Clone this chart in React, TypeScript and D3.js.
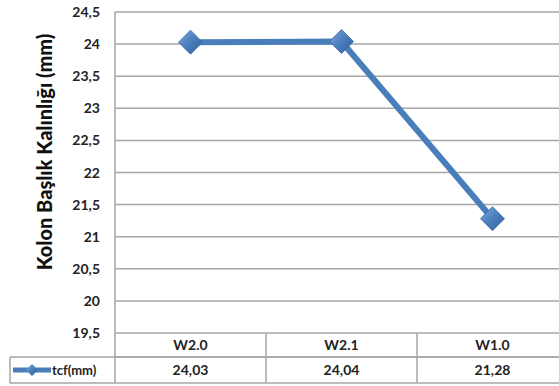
import React from "react";
import * as d3 from "d3";

const categories = ["W2.0", "W2.1", "W1.0"];
const values = [24.03, 24.04, 21.28];
const valueLabels = ["24,03", "24,04", "21,28"];
const yTicks = [19.5, 20, 20.5, 21, 21.5, 22, 22.5, 23, 23.5, 24, 24.5];
const seriesName = "tcf(mm)";
const yTitle = "Kolon Başlık Kalınlığı (mm)";

export default function App() {
  const W = 559, H = 386;
  const left = 115, right = 568, top = 12, bottom = 333;
  const row1 = 357, row2 = 383, tableLeft = 10;
  const y = d3.scaleLinear().domain([19.5, 24.5]).range([bottom, top]);
  const x = d3.scaleBand().domain(categories).range([left, right]);
  const line = d3.line<number>().x((_, i) => x(categories[i])! + x.bandwidth() / 2).y((d) => y(d));
  const font = "Lato, 'Open Sans', sans-serif";
  const grid = "#a6a6a6";
  const blue = "#4a7ebb";
  const diamond = (cx: number, cy: number, r: number) =>
    `M${cx},${cy - r}L${cx + r},${cy}L${cx},${cy + r}L${cx - r},${cy}Z`;
  return (
    <svg width={W} height={H} style={{ position: "absolute", left: 0, top: 0 }}>
      <defs>
        <linearGradient id="dg" x1="0" y1="0" x2="1" y2="1">
          <stop offset="0" stopColor="#7fa9e0" />
          <stop offset="0.5" stopColor="#4a7ebb" />
          <stop offset="1" stopColor="#2f5f9a" />
        </linearGradient>
      </defs>
      <rect width={W} height={H} fill="#fff" />
      {yTicks.map((t) => (
        <g key={t}>
          <line x1={left} x2={right} y1={y(t)} y2={y(t)} stroke={grid} strokeWidth={1.5} />
          <text x={100} y={y(t) + 5} textAnchor="end" fontFamily={font} fontWeight="bold" fontSize={14} fill="#222">
            {String(t).replace(".", ",")}
          </text>
        </g>
      ))}
      <line x1={left} x2={left} y1={top} y2={row2} stroke={grid} strokeWidth={1.5} />
      <line x1={left} x2={right} y1={row1} y2={row1} stroke={grid} strokeWidth={1.5} />
      <line x1={tableLeft} x2={right} y1={row1} y2={row1} stroke={grid} strokeWidth={1.5} />
      <line x1={tableLeft} x2={right} y1={row2} y2={row2} stroke={grid} strokeWidth={1.5} />
      <line x1={tableLeft} x2={tableLeft} y1={row1} y2={row2} stroke={grid} strokeWidth={1.5} />
      {categories.map((c, i) => (
        <g key={c}>
          {i > 0 && <line x1={x(c)} x2={x(c)} y1={bottom} y2={row2} stroke={grid} strokeWidth={1.5} />}
          <text x={x(c)! + x.bandwidth() / 2} y={bottom + 17} textAnchor="middle" fontFamily={font} fontWeight="bold" fontSize={14} fill="#222">{c}</text>
          <text x={x(c)! + x.bandwidth() / 2} y={row1 + 18} textAnchor="middle" fontFamily={font} fontWeight="bold" fontSize={14} fill="#222">{valueLabels[i]}</text>
        </g>
      ))}
      <path d={line(values)!} fill="none" stroke={blue} strokeWidth={6} strokeLinejoin="round" />
      {values.map((v, i) => (
        <path key={i} d={diamond(x(categories[i])! + x.bandwidth() / 2, y(v), 12)} fill="url(#dg)" stroke="#3b6aa8" strokeWidth={0.8} />
      ))}
      <line x1={13} x2={51} y1={370} y2={370} stroke={blue} strokeWidth={5} />
      <path d={diamond(32, 370, 6)} fill="url(#dg)" />
      <text x={52} y={375} fontFamily={font} fontWeight="bold" fontSize={13} fill="#222">{seriesName}</text>
      <text transform={`translate(52,152) rotate(-90)`} textAnchor="middle" fontFamily={font} fontWeight="900" fontSize={20} fill="#111">{yTitle}</text>
    </svg>
  );
}
